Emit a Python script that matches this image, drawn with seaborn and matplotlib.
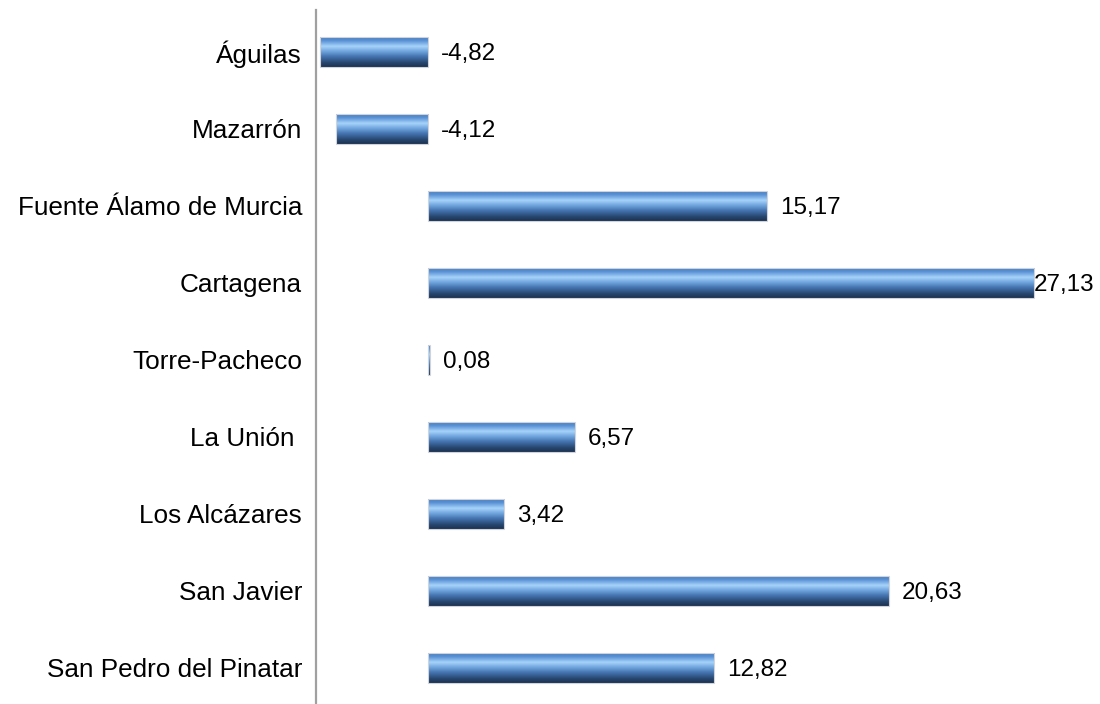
import numpy as np
import pandas as pd
import matplotlib
matplotlib.use("Agg")
import matplotlib.pyplot as plt
from matplotlib.colors import LinearSegmentedColormap
import seaborn as sns

municipios = ["Águilas", "Mazarrón", "Fuente Álamo de Murcia", "Cartagena",
              "Torre-Pacheco", "La Unión ", "Los Alcázares", "San Javier",
              "San Pedro del Pinatar"]
variacion = [-4.82, -4.12, 15.17, 27.13, 0.08, 6.57, 3.42, 20.63, 12.82]

df = pd.DataFrame({"municipio": municipios, "valor": variacion})

sns.set_style("white")
plt.rcParams["font.family"] = ["Liberation Sans", "DejaVu Sans"]

fig = plt.figure(figsize=(11, 7.04), dpi=100)
ax = fig.add_axes([316 / 1100, 0, (1098 - 316) / 1100, 694 / 704])

sns.barplot(data=df, x="valor", y="municipio", orient="h", ax=ax,
            color="#4a7bbf", width=0.39, edgecolor="#d0d4da", linewidth=0.8)

# vertical shading across each bar: bright band above the middle, dark base
shade = LinearSegmentedColormap.from_list("bar_shade", [
    (0.00, "#4677b9"), (0.15, "#5a92d5"), (0.33, "#a6d3fa"),
    (0.48, "#74a8e0"), (0.66, "#4574b0"), (0.86, "#27466f"), (1.00, "#1c3251")])
grad = np.linspace(0, 1, 256).reshape(-1, 1)
for patch in ax.patches:
    x0, y0 = patch.get_x(), patch.get_y()
    w, h = patch.get_width(), patch.get_height()
    im = ax.imshow(grad, cmap=shade, aspect="auto", interpolation="bilinear",
                   extent=(x0, x0 + w, y0 + h, y0), zorder=patch.get_zorder() + 0.1)
    im.set_clip_path(patch)
    patch.set_facecolor("none")
    patch.set_zorder(patch.get_zorder() + 0.2)

ax.set_xlim(-5, 30)
ax.set_ylim(8.468, -0.545)

for i, v in enumerate(variacion):
    end = max(v, 0)
    pad = 9.5 if end < 26 else 0
    ax.annotate(f"{v:.2f}".replace(".", ","), xy=(end, i), xytext=(pad, -1.5),
                textcoords="offset points", ha="left", va="center",
                fontsize=17.5, color="#000000", annotation_clip=False)

ax.set_xlabel("")
ax.set_ylabel("")
ax.set_xticks([])
ax.tick_params(axis="y", length=0, pad=10, labelsize=18.8, labelcolor="#000000")
for side in ["top", "right", "bottom"]:
    ax.spines[side].set_visible(False)
ax.spines["left"].set_color("#a0a0a0")
ax.spines["left"].set_linewidth(1.6)

fig.savefig("out.png", dpi=100)
